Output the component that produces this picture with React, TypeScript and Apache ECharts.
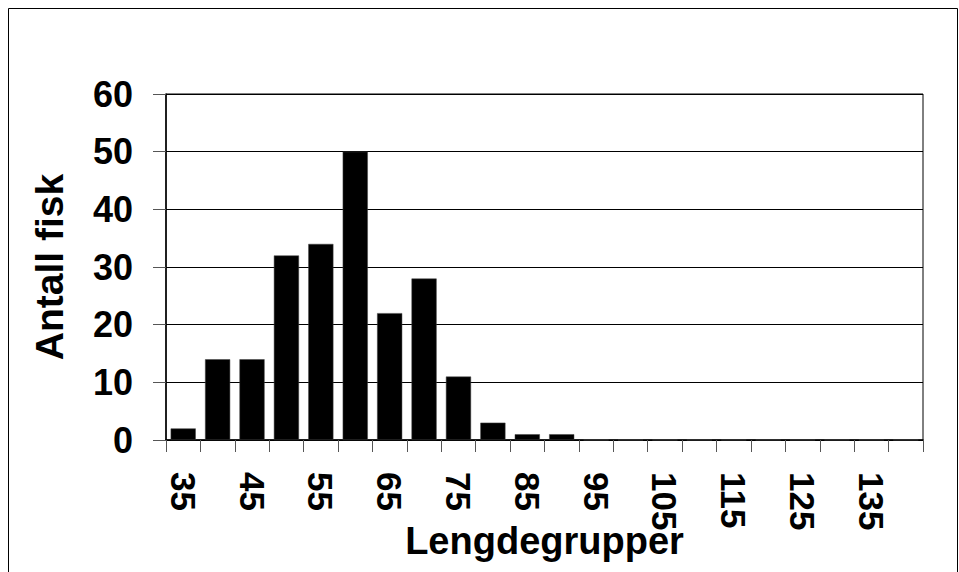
import React, { useEffect, useRef } from "react";
import * as echarts from "echarts";

const categories = ["35","40","45","50","55","60","65","70","75","80","85","90","95","100","105","110","115","120","125","130","135","140"];
const counts = [2, 14, 14, 32, 34, 50, 22, 28, 11, 3, 1, 1, 0, 0, 0, 0, 0, 0, 0, 0, 0, 0];
const yTicks = [0, 10, 20, 30, 40, 50, 60];
const xTitle = "Lengdegrupper";
const yTitle = "Antall fisk";

const FONT = "'Liberation Sans', Arial, sans-serif";

export default function App() {
  const ref = useRef<HTMLDivElement>(null);
  useEffect(() => {
    if (!ref.current) return;
    const chart = echarts.init(ref.current, null, { renderer: "svg" });
    chart.setOption({
      animation: false,
      backgroundColor: "#fff",
      textStyle: { fontFamily: FONT },
      graphic: [
        {
          type: "rect",
          shape: { x: 8.5, y: 8.5, width: 949, height: 700 },
          style: { fill: "none", stroke: "#000", lineWidth: 1 },
          silent: true,
        },
      ],
      grid: {
        left: 166,
        top: 94,
        width: 757,
        height: 346,
        show: true,
        borderColor: "#000",
        borderWidth: 1,
        backgroundColor: "transparent",
        containLabel: false,
        outerBoundsMode: "none",
      },
      xAxis: {
        type: "category",
        data: categories,
        name: xTitle,
        nameLocation: "middle",
        nameGap: 82,
        nameMoveOverlap: false,
        nameTextStyle: { fontSize: 38, fontWeight: "bold", color: "#000", fontFamily: FONT },
        axisLine: { show: true, lineStyle: { color: "#000", width: 1.5 } },
        axisTick: { show: true, interval: 0, length: 12, alignWithLabel: false, lineStyle: { color: "#555", width: 1 } },
        axisLabel: {
          interval: 1,
          rotate: -90,
          margin: 32,
          fontSize: 35,
          fontWeight: "bold",
          color: "#000",
          fontFamily: FONT,
        },
        splitLine: { show: false },
      },
      yAxis: {
        type: "value",
        min: yTicks[0],
        max: yTicks[yTicks.length - 1],
        interval: 10,
        name: yTitle,
        nameLocation: "middle",
        nameGap: 97,
        nameMoveOverlap: false,
        nameRotate: 90,
        nameTextStyle: { fontSize: 39, fontWeight: "bold", color: "#000", fontFamily: FONT },
        axisLine: { show: true, lineStyle: { color: "#000", width: 1.5 } },
        axisTick: { show: true, inside: false, length: 13, lineStyle: { color: "#555", width: 1 } },
        axisLabel: {
          margin: 33,
          fontSize: 36,
          fontWeight: "bold",
          color: "#000",
          fontFamily: FONT,
        },
        splitLine: { show: true, lineStyle: { color: "#000", width: 1 } },
      },
      series: [
        {
          type: "bar",
          data: counts,
          barCategoryGap: "27%",
          itemStyle: { color: "#000", borderColor: "#444", borderWidth: 0.5 },
        },
      ],
    });
    return () => chart.dispose();
  }, []);
  return <div ref={ref} style={{ position: "absolute", left: 0, top: 0, width: 959, height: 572 }} />;
}
